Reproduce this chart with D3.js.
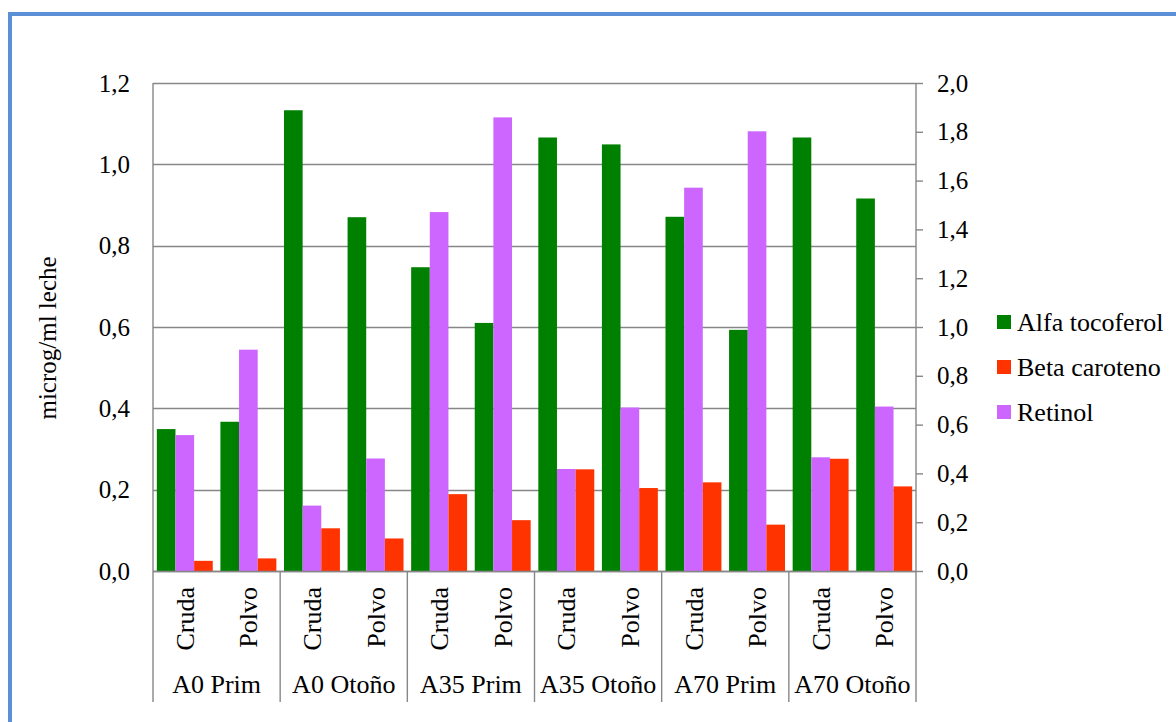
<!DOCTYPE html>
<html>
<head>
<meta charset="utf-8">
<script src="https://cdn.jsdelivr.net/npm/d3@7"></script>
<style>
  html, body { margin: 0; padding: 0; background: #ffffff; }
  svg { display: block; }
  svg text { font-family: "Liberation Serif", "Tinos", "Times New Roman", Times, "DejaVu Serif", serif !important; fill: #000; }
</style>
</head>
<body>
<svg id="chart" width="1176" height="722"></svg>
<script>
// Sample groups (farm/season) and milk type within each group
const groups = ["A0 Prim", "A0 Otoño", "A35 Prim", "A35 Otoño", "A70 Prim", "A70 Otoño"];
const types = ["Cruda", "Polvo"];

// Vitamin contents, microg/ml leche, one value per group × type
const alfaTocoferol = [0.349, 0.367, 1.133, 0.870, 0.747, 0.610, 1.066, 1.049, 0.871, 0.593, 1.066, 0.916];
const betaCaroteno  = [0.025, 0.031, 0.105, 0.080, 0.189, 0.125, 0.250, 0.204, 0.218, 0.114, 0.276, 0.208];
// Retinol is read on the secondary (right) axis
const retinol       = [0.557, 0.907, 0.268, 0.461, 1.471, 1.859, 0.418, 0.670, 1.571, 1.802, 0.466, 0.674];

const leftTicks  = [0, 0.2, 0.4, 0.6, 0.8, 1.0, 1.2];
const rightTicks = [0, 0.2, 0.4, 0.6, 0.8, 1.0, 1.2, 1.4, 1.6, 1.8, 2.0];
const yTitle = "microg/ml leche";

const series = [
  { name: "Alfa tocoferol", values: alfaTocoferol, color: "#008000", axis: "left" },
  { name: "Retinol",        values: retinol,       color: "#cc66ff", axis: "right" },
  { name: "Beta caroteno",  values: betaCaroteno,  color: "#ff3300", axis: "left" }
];
const legendOrder = ["Alfa tocoferol", "Beta caroteno", "Retinol"];

const FONT = "'Liberation Serif', 'Tinos', 'Times New Roman', Times, 'DejaVu Serif', serif";
const svg = d3.select("#chart");
const plot = { left: 153, right: 916, top: 83, bottom: 571, catBottom: 702 };
const fmt = d => d3.format(".1f")(d).replace(".", ",");

// Outer frame
svg.append("rect")
  .attr("x", 10).attr("y", 14).attr("width", 1250).attr("height", 800)
  .attr("fill", "none").attr("stroke", "#5b8fd6").attr("stroke-width", 4);

// Scales
const cats = [];
groups.forEach(g => types.forEach(t => cats.push(g + "|" + t)));
const x0 = d3.scaleBand().domain(cats).range([plot.left, plot.right]).padding(0);
const x1 = d3.scaleBand().domain(series.map(s => s.name)).range([0, x0.bandwidth()])
  .paddingInner(0).paddingOuter(0.205);
const xg = d3.scaleBand().domain(groups).range([plot.left, plot.right]).padding(0);
const yL = d3.scaleLinear().domain([0, 1.2]).range([plot.bottom, plot.top]);
const yR = d3.scaleLinear().domain([0, 2.0]).range([plot.bottom, plot.top]);

const gridColor = "#878787";

// Horizontal gridlines (left axis)
svg.append("g").selectAll("line").data(leftTicks).join("line")
  .attr("x1", plot.left).attr("x2", plot.right)
  .attr("y1", d => Math.round(yL(d)) + 0.5).attr("y2", d => Math.round(yL(d)) + 0.5)
  .attr("stroke", gridColor).attr("stroke-width", 1.4);

// Left axis
const leftAxis = d3.axisLeft(yL).tickValues(leftTicks).tickSize(0).tickPadding(23).tickFormat(fmt);
const gL = svg.append("g").attr("transform", `translate(${plot.left},0)`).call(leftAxis)
  .attr("font-family", FONT).attr("font-size", 25);
gL.select(".domain").remove();
gL.selectAll("text").attr("fill", "#000");

// Right axis
const rightAxis = d3.axisRight(yR).tickValues(rightTicks).tickSize(7).tickPadding(14).tickFormat(fmt);
const gR = svg.append("g").attr("transform", `translate(${plot.right},0)`).call(rightAxis)
  .attr("font-family", FONT).attr("font-size", 25);
gR.select(".domain").remove();
gR.selectAll("line").attr("stroke", gridColor).attr("stroke-width", 1.4);
gR.selectAll("text").attr("fill", "#000");

// Bars
const rows = cats.map((c, i) => ({ cat: c, i }));
series.forEach(s => {
  const y = s.axis === "left" ? yL : yR;
  svg.append("g").selectAll("rect").data(rows).join("rect")
    .attr("x", d => x0(d.cat) + x1(s.name))
    .attr("width", x1.bandwidth())
    .attr("y", d => y(s.values[d.i]))
    .attr("height", d => plot.bottom - y(s.values[d.i]))
    .attr("fill", s.color);
});

// Axis lines: left, right, category baseline, group separators
const axisG = svg.append("g").attr("stroke", gridColor).attr("stroke-width", 1.4);
axisG.append("line").attr("x1", plot.left).attr("x2", plot.left)
  .attr("y1", plot.top).attr("y2", plot.catBottom);
axisG.append("line").attr("x1", plot.right).attr("x2", plot.right)
  .attr("y1", plot.top).attr("y2", plot.catBottom);
axisG.append("line").attr("x1", plot.left).attr("x2", plot.right)
  .attr("y1", plot.bottom + 0.5).attr("y2", plot.bottom + 0.5);
axisG.selectAll(".sep").data(groups.slice(1)).join("line")
  .attr("x1", d => xg(d)).attr("x2", d => xg(d))
  .attr("y1", plot.bottom).attr("y2", plot.catBottom);

const textG = svg.append("g").attr("font-family", FONT).attr("font-size", 26);

// Category labels (rotated)
textG.append("g").selectAll("text").data(cats).join("text")
  .attr("transform", d => `translate(${x0(d) + x0.bandwidth() / 2},587) rotate(-90)`)
  .attr("text-anchor", "end").attr("dy", "0.35em")
  .text(d => d.split("|")[1]);

// Group labels
textG.append("g").selectAll("text").data(groups).join("text")
  .attr("x", d => xg(d) + xg.bandwidth() / 2).attr("y", 693)
  .attr("text-anchor", "middle")
  .text(d => d);

// Y axis title
textG.append("text")
  .attr("transform", `translate(47,338) rotate(-90)`)
  .attr("text-anchor", "middle").attr("dy", "0.35em")
  .attr("font-size", 25)
  .text(yTitle);

// Legend
const colorOf = Object.fromEntries(series.map(s => [s.name, s.color]));
const lg = textG.append("g").selectAll("g").data(legendOrder).join("g")
  .attr("transform", (d, i) => `translate(997,${322 + i * 45})`);
lg.append("rect").attr("x", 0).attr("y", -7).attr("width", 14).attr("height", 14)
  .attr("fill", d => colorOf[d]);
lg.append("text").attr("x", 20).attr("dy", "0.35em").text(d => d);
</script>
</body>
</html>
